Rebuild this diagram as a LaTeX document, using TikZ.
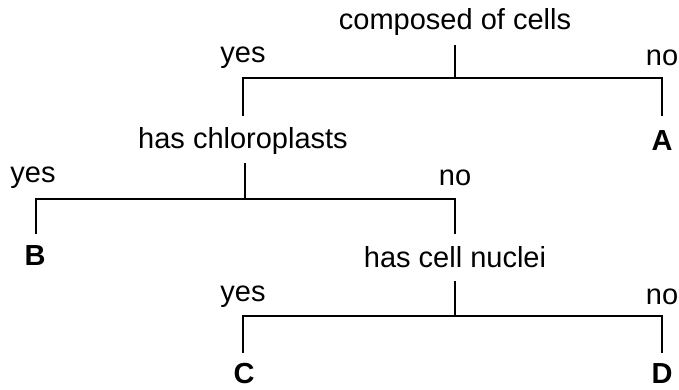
\documentclass[tikz,border=0pt]{standalone}
\usepackage{fontspec}
\setmainfont{Liberation Sans}
\usetikzlibrary{positioning}
\tikzset{
    question/.style={font=\fontsize{29}{34}\selectfont, inner sep=0pt, anchor=center},
    answer/.style={font=\fontsize{29}{34}\selectfont, inner sep=0pt, anchor=center},
    taxon/.style={font=\fontsize{29}{34}\selectfont\bfseries, inner sep=0pt, anchor=center},
    branch/.style={draw=black, line width=2pt, line cap=butt, line join=miter},
}
\begin{document}
\begin{tikzpicture}[x=1pt, y=-1pt]
    \useasboundingbox (0,0) rectangle (679,390);
    % first key
    \node[question] (q1) at (455,22) {composed of cells};
    \coordinate (t1) at (455,45);
    \coordinate (j1) at (455,78);
    \coordinate (y1) at (243,116);
    \coordinate (n1) at (662,116);
    \node[answer] (ly1) at (243,58) {yes};
    \node[answer] (ln1) at (662,58) {no};
    \node[taxon] (a) at (662,141) {A};
    \draw[branch] (t1) -- (j1);
    \draw[branch] (y1) |- (j1) -| (n1);
    % second key
    \node[question] (q2) at (243,141) {has chloroplasts};
    \coordinate (t2) at (245,163);
    \coordinate (j2) at (245,199);
    \coordinate (y2) at (36,234);
    \coordinate (n2) at (455,234);
    \node[answer] (ly2) at (33,178) {yes};
    \node[answer] (ln2) at (455,178) {no};
    \node[taxon] (b) at (35,256) {B};
    \draw[branch] (t2) -- (j2);
    \draw[branch] (y2) |- (j2) -| (n2);
    % third key
    \node[question] (q3) at (455,257) {has cell nuclei};
    \coordinate (t3) at (455,281);
    \coordinate (j3) at (455,316);
    \coordinate (y3) at (243,353);
    \coordinate (n3) at (662,353);
    \node[answer] (ly3) at (243,297) {yes};
    \node[answer] (ln3) at (662,297) {no};
    \node[taxon] (c) at (244,374) {C};
    \node[taxon] (d) at (662,374) {D};
    \draw[branch] (t3) -- (j3);
    \draw[branch] (y3) |- (j3) -| (n3);
\end{tikzpicture}
\end{document}
